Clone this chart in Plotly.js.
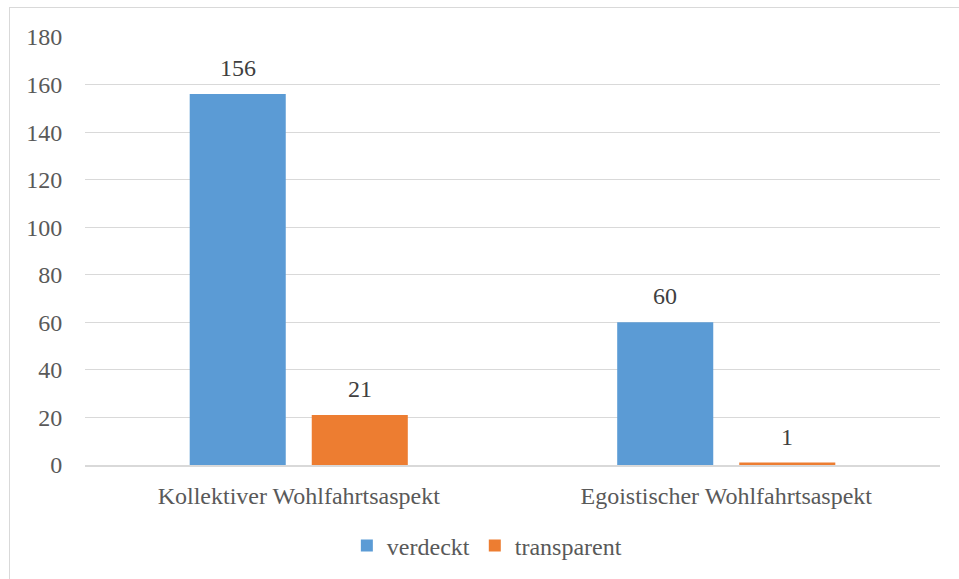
<!DOCTYPE html>
<html><head><meta charset="utf-8">
<script src="https://cdn.plot.ly/plotly-3.0.1.min.js"></script>
<style>html,body{margin:0;padding:0;background:#fff;overflow:hidden;}#frame{position:absolute;left:9px;top:7px;width:960px;height:600px;border:1px solid #d9d9d9;box-sizing:border-box;pointer-events:none;z-index:5;}</style>
</head><body>
<div id="chart" style="width:959px;height:579px;"></div>
<div id="frame"></div>
<script>
const categories = ["Kollektiver Wohlfahrtsaspekt", "Egoistischer Wohlfahrtsaspekt"];
const verdeckt = [156, 60];
const transparent = [21, 1];
const seriesNames = ["verdeckt", "transparent"];
const yTicks = [0, 20, 40, 60, 80, 100, 120, 140, 160, 180];

const FAM = "'Liberation Serif', 'Times New Roman', serif";
const font = {family: FAM, size: 24, color: "#595959"};
const labelFont = {family: FAM, size: 24, color: "#404040"};
const traces = [
  {type: "bar", name: seriesNames[0], x: categories, y: verdeckt, marker: {color: "#5B9BD5"}},
  {type: "bar", name: seriesNames[1], x: categories, y: transparent, marker: {color: "#ED7D31"}}
];
const annotations = [];
[verdeckt, transparent].forEach((vals, si) => {
  vals.forEach((v, i) => {
    annotations.push({x: categories[i], y: v, xref: "x", yref: "y", text: String(v), showarrow: false,
      xanchor: "center", yanchor: "bottom", yshift: 11, xshift: si === 0 ? -61 : 61, font: labelFont});
  });
});
const layout = {
  width: 959, height: 579,
  margin: {l: 85, r: 19, t: 37, b: 113},
  paper_bgcolor: "#fff", plot_bgcolor: "#fff",
  font: font,
  barmode: "group", bargap: 0.429, bargroupgap: 0.213,
  showlegend: true,
  legend: {orientation: "h", x: 0.47, xanchor: "center", y: -0.186, yanchor: "middle", font: font},
  annotations: annotations,
  xaxis: {showgrid: false, showline: true, linecolor: "#d9d9d9", linewidth: 1.5, ticks: "outside", ticklen: 9, tickcolor: "rgba(0,0,0,0)", tickfont: font, zeroline: false},
  yaxis: {range: [0, 180], tickvals: yTicks, showgrid: true, gridcolor: "#d9d9d9", gridwidth: 1, zeroline: false, showline: false, ticks: "outside", ticklen: 17, tickcolor: "rgba(0,0,0,0)", tickfont: font}
};
Plotly.newPlot("chart", traces, layout, {displayModeBar: false, staticPlot: true});
</script>
</body></html>
